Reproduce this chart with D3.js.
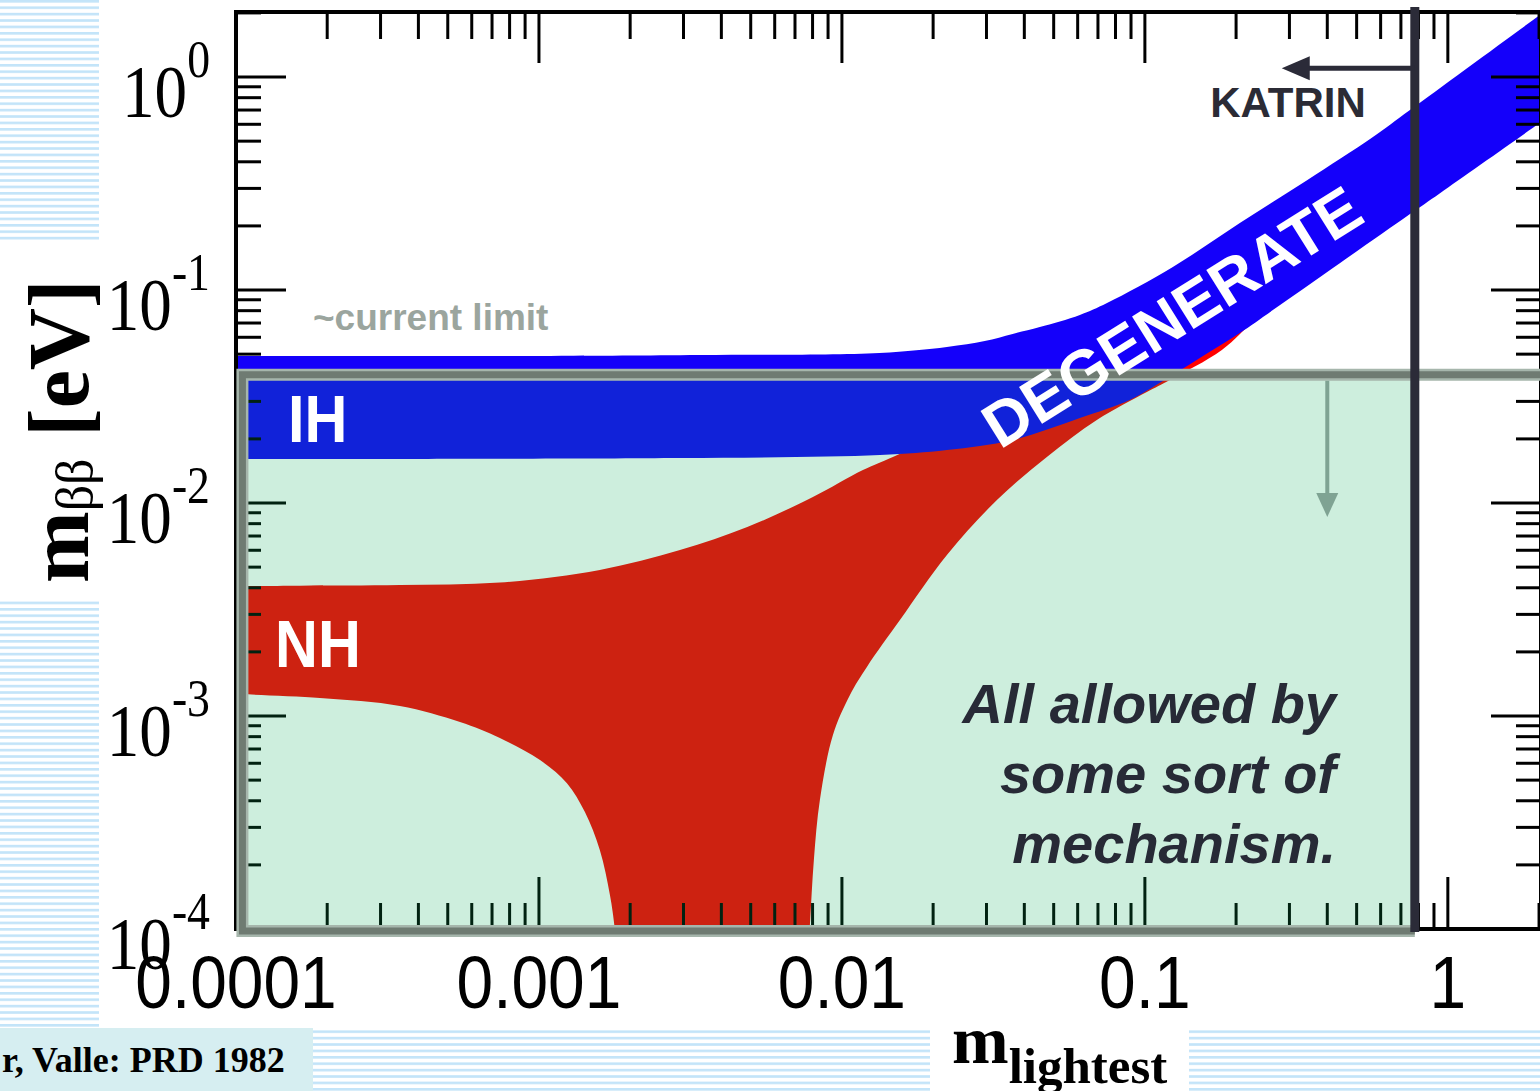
<!DOCTYPE html>
<html>
<head>
<meta charset="utf-8">
<script src="https://cdn.jsdelivr.net/npm/d3@7"></script>
<style>
  body { margin: 0; background: #fff; }
  svg { display: block; }
</style>
</head>
<body>
<svg id="chart" width="1540" height="1091"></svg>
<script>
// inverted hierarchy band (blue), edges
const ihUpperMass = [1e-4, 1e-3, 0.00341, 0.0133, 0.0222, 0.0296, 0.0366, 0.045, 0.061, 0.075, 0.1237, 0.2058, 0.343, 0.566, 0.75, 2.01, 2.34];
const ihUpper     = [0.049, 0.049, 0.0495, 0.0506, 0.054, 0.0576, 0.0622, 0.067, 0.0764, 0.0869, 0.1283, 0.2064, 0.328, 0.523, 0.70, 1.95, 2.27];
const ihLowerMass = [1e-4, 0.00292, 0.01334, 0.0222, 0.0366, 0.061, 0.0891, 0.1146, 0.1518, 0.2058, 0.2645, 0.441, 0.75, 0.942, 2.01, 2.34];
const ihLower     = [0.0161, 0.01626, 0.0168, 0.01774, 0.01977, 0.02506, 0.03046, 0.0374, 0.048, 0.0628, 0.0805, 0.134, 0.2275, 0.285, 0.608, 0.708];

// normal hierarchy band (red): upper edge, lower edge left of the dip, lower edge right of the dip
const nhUpperMass = [1e-4, 1.626e-4, 3.475e-4, 7.43e-4, 1.588e-3, 2.92e-3, 4.87e-3, 8.02e-3, 0.01173, 0.01473, 0.02269, 0.0484, 0.1035, 0.2222, 0.698, 2.34];
const nhUpper     = [0.00407, 0.00409, 0.00412, 0.00423, 0.00485, 0.00601, 0.00771, 0.01067, 0.01428, 0.01644, 0.022, 0.0422, 0.0895, 0.182, 0.564, 1.85];
const nhLeftMass  = [1e-4, 1.893e-4, 3.475e-4, 5.486e-4, 7.43e-4, 1.008e-3, 1.237e-3, 1.418e-3, 1.588e-3, 1.715e-3, 1.781e-3, 1.851e-3];
const nhLeftLow   = [0.001268, 0.001215, 0.001115, 9.37e-4, 7.88e-4, 6.21e-4, 4.84e-4, 3.54e-4, 2.35e-4, 1.444e-4, 9.9e-5, 5.17e-5];
const nhRightMass = [7.605e-3, 7.84e-3, 8.08e-3, 8.46e-3, 9.34e-3, 0.01063, 0.01209, 0.01554, 0.02221, 0.03248, 0.04748, 0.0694, 0.1015, 0.1209, 0.1795, 0.2396, 0.6944, 2.342];
const nhRightLow  = [5.17e-5, 1.045e-4, 2.11e-4, 4.04e-4, 8.14e-4, 1.255e-3, 1.70e-3, 2.82e-3, 5.70e-3, 0.01033, 0.01644, 0.02453, 0.03319, 0.03781, 0.0523, 0.0755, 0.2178, 0.739];

const xTickValues = [1e-4, 1e-3, 1e-2, 1e-1, 1];
const xTickLabels = ["0.0001", "0.001", "0.01", "0.1", "1"];
const yTickExps = [0, -1, -2, -3, -4];

const currentLimit = 0.04;     // ~current limit on m_bb
const katrinMass = 0.778;      // KATRIN line
const limitArrowMass = 0.40;
const limitArrowTip = 0.0086;
const katrinArrowTip = 0.283;
const katrinArrowAt = 1.1;

const svg = d3.select("#chart");

// axes ranges
const x = d3.scaleLog().domain([1e-4, 2.03]).range([236, 1541]);
const y = d3.scaleLog().domain([1e-4, 2.02]).range([929, 12]);
const pLeft = x.range()[0], pRight = x.range()[1];
const pTop = y.range()[1], pBottom = y.range()[0];

// striped slide background
const defs = svg.append("defs");
const pat = defs.append("pattern")
    .attr("id", "stripes")
    .attr("width", 10)
    .attr("height", 6.4)
    .attr("patternUnits", "userSpaceOnUse");
pat.append("rect").attr("width", 10).attr("height", 6.4).attr("fill", "#fff");
pat.append("rect").attr("width", 10).attr("height", 2.6).attr("fill", "#c3e4f9");

defs.append("clipPath").attr("id", "plotclip")
    .append("rect")
    .attr("x", pLeft).attr("y", pTop)
    .attr("width", pRight - pLeft).attr("height", pBottom - pTop);

const bg = [[0, 0, 99, 240], [0, 598, 99, 432], [313, 1030, 617, 61], [1189, 1030, 351, 61]];
svg.selectAll(".stripe")
    .data(bg)
    .join("rect")
    .attr("class", "stripe")
    .attr("x", d => d[0]).attr("y", d => d[1])
    .attr("width", d => d[2]).attr("height", d => d[3])
    .attr("fill", "url(#stripes)");

svg.append("rect")
    .attr("x", 0).attr("y", 1028).attr("width", 313).attr("height", 63)
    .attr("fill", "#d6eef1");

// bands: closed outlines built from the edge curves
const edge = d3.line()
    .x(d => x(d[0]))
    .y(d => y(d[1]))
    .curve(d3.curveCatmullRom.alpha(0.5));
const zip = (ms, vs) => ms.map((m, i) => [m, vs[i]]);
function outline(...parts) {
    return parts.map((p, i) => {
        const s = edge(p);
        return i === 0 ? s : "L" + s.slice(1);
    }).join("") + "Z";
}

const plot = svg.append("g").attr("clip-path", "url(#plotclip)");
plot.append("path")
    .attr("d", outline(
        zip(nhUpperMass, nhUpper),
        zip(nhRightMass, nhRightLow).reverse(),
        zip(nhLeftMass, nhLeftLow).reverse()))
    .attr("fill", "#ff0000");
plot.append("path")
    .attr("d", outline(
        zip(ihUpperMass, ihUpper),
        zip(ihLowerMass, ihLower).reverse()))
    .attr("fill", "#1400fa");

// ticks
const ticks = [];
for (let e = -4; e <= 0; e++) {
    for (let k = 1; k <= 9; k++) {
        const v = k * Math.pow(10, e);
        if (v <= 2.02) ticks.push({ v: v, major: k === 1 });
    }
}

const axes = svg.append("g").attr("stroke", "#000").attr("stroke-width", 3);

axes.selectAll(".tl")
    .data(ticks)
    .join("line")
    .attr("x1", pLeft).attr("x2", d => pLeft + (d.major ? 50 : 25))
    .attr("y1", d => y(d.v)).attr("y2", d => y(d.v));
axes.selectAll(".tr")
    .data(ticks)
    .join("line")
    .attr("x1", pRight).attr("x2", d => pRight - (d.major ? 50 : 25))
    .attr("y1", d => y(d.v)).attr("y2", d => y(d.v));
axes.selectAll(".tt")
    .data(ticks)
    .join("line")
    .attr("x1", d => x(d.v)).attr("x2", d => x(d.v))
    .attr("y1", pTop).attr("y2", d => pTop + (d.major ? 51 : 27));
axes.selectAll(".tb")
    .data(ticks)
    .join("line")
    .attr("x1", d => x(d.v)).attr("x2", d => x(d.v))
    .attr("y1", pBottom).attr("y2", d => pBottom - (d.major ? 52 : 26));

svg.append("rect")
    .attr("x", pLeft).attr("y", pTop)
    .attr("width", pRight - pLeft).attr("height", pBottom - pTop)
    .attr("fill", "none")
    .attr("stroke", "#000")
    .attr("stroke-width", 4);

// "allowed" box under the current limit
const boxL = x(1.05e-4), boxT = y(currentLimit), boxB = pBottom + 2, boxR = x(katrinMass);
svg.append("rect")
    .attr("x", boxL).attr("y", boxT)
    .attr("width", boxR - boxL).attr("height", boxB - boxT)
    .attr("fill", "rgb(5,168,85)")
    .attr("fill-opacity", 0.2);

const boxPath = `M${pRight + 10},${boxT}H${boxL}V${boxB}H${boxR}`;
svg.append("path").attr("d", boxPath)
    .attr("fill", "none").attr("stroke", "#a6b6ac").attr("stroke-width", 12);
svg.append("path").attr("d", boxPath)
    .attr("fill", "none").attr("stroke", "#6f7b72").attr("stroke-width", 7);

// arrow pointing down from the limit
const ax = x(limitArrowMass), ay = y(limitArrowTip);
svg.append("line")
    .attr("x1", ax).attr("x2", ax)
    .attr("y1", boxT + 6).attr("y2", ay - 20)
    .attr("stroke", "#7fa393").attr("stroke-width", 4);
svg.append("path")
    .attr("d", `M${ax - 11},${ay - 24}L${ax + 11},${ay - 24}L${ax},${ay}Z`)
    .attr("fill", "#7fa393");

// KATRIN
const kx = x(katrinMass), ky = y(katrinArrowAt);
svg.append("line")
    .attr("x1", kx).attr("x2", kx)
    .attr("y1", 7).attr("y2", pBottom + 3)
    .attr("stroke", "#2b2b38").attr("stroke-width", 9);
svg.append("line")
    .attr("x1", kx).attr("x2", x(katrinArrowTip) + 20)
    .attr("y1", ky).attr("y2", ky)
    .attr("stroke", "#2b2b38").attr("stroke-width", 5);
const tx = x(katrinArrowTip);
svg.append("path")
    .attr("d", `M${tx},${ky}L${tx + 28},${ky - 12}L${tx + 28},${ky + 12}Z`)
    .attr("fill", "#2b2b38");

svg.append("text")
    .attr("x", 1288).attr("y", 117)
    .attr("text-anchor", "middle")
    .style("font", "bold 42px 'Liberation Sans', Arial, sans-serif")
    .attr("fill", "#2b2b35")
    .text("KATRIN");

// annotations
svg.append("text")
    .attr("x", 313).attr("y", 330)
    .style("font", "bold 37px 'Liberation Sans', Arial, sans-serif")
    .attr("fill", "#9ba59e")
    .text("~current limit");

svg.append("text")
    .attr("transform", "translate(288,442) scale(0.9,1)")
    .style("font", "bold 66px 'Liberation Sans', Arial, sans-serif")
    .attr("fill", "#fff")
    .text("IH");

svg.append("text")
    .attr("transform", "translate(275,667) scale(0.9,1)")
    .style("font", "bold 66px 'Liberation Sans', Arial, sans-serif")
    .attr("fill", "#fff")
    .text("NH");

svg.append("text")
    .attr("transform", "translate(1000,450) rotate(-32)")
    .style("font", "bold 63px 'Liberation Sans', Arial, sans-serif")
    .attr("fill", "#fff")
    .text("DEGENERATE");

const allowed = ["All allowed by", "some sort of", "mechanism."];
svg.selectAll(".allowed")
    .data(allowed)
    .join("text")
    .attr("class", "allowed")
    .attr("x", 1336)
    .attr("y", (d, i) => 723 + i * 70)
    .attr("text-anchor", "end")
    .style("font", "italic bold 56px 'Liberation Sans', Arial, sans-serif")
    .attr("fill", "#272a36")
    .text(d => d);

// tick labels
const yl = svg.selectAll(".ylab")
    .data(yTickExps)
    .join("text")
    .attr("class", "ylab")
    .attr("transform", d => `translate(210,${y(Math.pow(10, d)) + 40}) scale(0.88,1)`)
    .attr("text-anchor", "end")
    .style("font-family", "'Liberation Serif', 'Times New Roman', serif")
    .style("font-size", "74px")
    .attr("fill", "#000");
yl.append("tspan").text("10");
yl.append("tspan")
    .attr("dy", -40)
    .style("font-size", "52px")
    .text(d => String(d));

svg.selectAll(".xlab")
    .data(xTickValues)
    .join("text")
    .attr("class", "xlab")
    .attr("transform", d => `translate(${x(d)},1008) scale(0.89,1)`)
    .attr("text-anchor", "middle")
    .style("font", "74px 'Liberation Sans', Arial, sans-serif")
    .attr("fill", "#000")
    .text((d, i) => xTickLabels[i]);

// axis titles
const yt = svg.append("text")
    .attr("transform", "translate(88,583) rotate(-90)")
    .style("font-family", "'Liberation Serif', 'Times New Roman', serif")
    .attr("fill", "#000");
yt.append("tspan").style("font-size", "86px").style("font-weight", "bold").text("m");
yt.append("tspan").attr("dy", 4).style("font-size", "52px").text("ββ");
yt.append("tspan").attr("dy", -4).style("font-size", "86px").style("font-weight", "bold").text(" [eV]");

svg.append("rect")
    .attr("x", 930).attr("y", 1030).attr("width", 259).attr("height", 61)
    .attr("fill", "#fff");
const xt = svg.append("text")
    .attr("x", 952).attr("y", 1063)
    .style("font-family", "'Liberation Serif', 'Times New Roman', serif")
    .style("font-weight", "bold")
    .attr("fill", "#000");
xt.append("tspan").style("font-size", "68px").text("m");
xt.append("tspan").attr("dy", 20).style("font-size", "51px").text("lightest");

svg.append("text")
    .attr("x", 2).attr("y", 1072)
    .style("font", "bold 36px 'Liberation Serif', 'Times New Roman', serif")
    .attr("fill", "#000")
    .text("r, Valle: PRD 1982");
</script>
</body>
</html>
